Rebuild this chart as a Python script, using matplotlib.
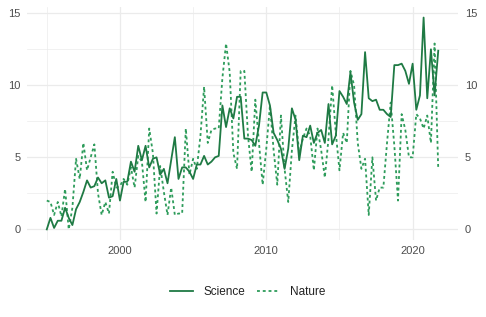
import numpy as np
import matplotlib.pyplot as plt
from matplotlib.ticker import MultipleLocator

plt.rcParams["font.family"] = ["Liberation Sans", "DejaVu Sans"]

# quarterly series, 1995 Q1 .. 2021 Q4
start_year = 1995
science = [
    0.0, 0.8, 0.1, 0.6,
    0.6, 1.5, 0.8, 0.3,
    1.4, 1.9, 2.6, 3.4,
    2.9, 3.0, 3.6, 3.2,
    3.4, 2.2, 2.3, 3.5,
    2.0, 3.3, 3.3, 4.7,
    4.0, 5.8, 4.8, 5.8,
    4.3, 4.9, 5.0, 3.8,
    4.2, 3.2, 4.8, 6.4,
    3.5, 4.3, 4.3, 4.0,
    3.5, 4.5, 4.5, 5.1,
    4.5, 4.7, 5.0, 5.1,
    8.6, 7.1, 8.4, 7.7,
    9.2, 9.2, 6.3, 6.3,
    6.2, 5.8, 7.2, 9.5,
    9.5, 8.6, 6.7, 6.2,
    5.6, 4.2, 5.6, 8.4,
    7.6, 4.8, 6.5, 6.4,
    7.2, 6.0, 6.7, 6.9,
    6.0, 8.7, 5.9, 6.5,
    9.6, 9.2, 8.7, 10.9,
    8.8, 7.6, 8.0, 12.3,
    9.1, 8.9, 9.0, 8.3,
    8.3, 8.0, 7.8, 11.4,
    11.4, 11.5, 11.0, 10.1,
    11.5, 8.3, 9.3, 14.7,
    9.1, 12.5, 9.3, 12.4,
]
nature = [
    2.0, 1.9, 1.0, 1.9,
    0.9, 2.8, 0.0, 1.5,
    4.9, 3.5, 6.0, 4.1,
    5.0, 5.9, 2.5, 1.0,
    1.9, 1.1, 4.0, 2.9,
    3.0, 3.5, 3.1, 4.3,
    2.9, 5.1, 4.7, 1.9,
    7.0, 5.3, 1.1, 4.4,
    2.6, 1.0, 2.9, 1.0,
    1.1, 1.1, 7.0, 3.8,
    4.9, 4.2, 6.5, 9.9,
    6.0, 6.9, 7.0, 7.0,
    10.5, 12.9, 10.9, 5.3,
    4.2, 11.0, 11.0, 6.5,
    4.0, 9.0, 6.0, 3.1,
    5.6, 8.6, 5.5, 3.1,
    7.9, 4.2, 1.9, 5.5,
    7.9, 5.3, 6.3, 7.0,
    6.5, 4.1, 7.0, 5.5,
    3.6, 6.3, 10.0, 6.7,
    4.1, 6.7, 6.0, 11.0,
    10.0, 6.0, 4.2, 4.9,
    1.0, 5.0, 2.0, 2.9,
    2.9, 6.0, 8.8, 5.8,
    2.0, 8.0, 6.9, 5.0,
    5.0, 8.0, 7.7, 7.0,
    7.9, 6.0, 12.9, 4.2,
]
dates = start_year + 0.25 * np.arange(len(science))

sci_color = "#1f7a44"
nat_color = "#2e9c5b"
grid_color = "#ebebeb"
text_color = "#4d4d4d"

fig = plt.figure(figsize=(4.86, 3.17), dpi=100)
ax = fig.add_axes([0.056, 0.243, 0.886, 0.735])

ax.plot(dates, science, color=sci_color, lw=1.3, label="Science", zorder=3)
ax.plot(dates, nature, color=nat_color, lw=1.3, ls=(0, (1.6, 1.6)),
        label="Nature", zorder=2)

span = dates[-1] - dates[0]
ax.set_xlim(dates[0] - 0.05 * span, dates[-1] + 0.05 * span)
ymax = max(max(science), max(nature))
ax.set_ylim(-0.05 * ymax, ymax * 1.05)

ax.xaxis.set_major_locator(MultipleLocator(10))
ax.xaxis.set_minor_locator(MultipleLocator(5))
ax.yaxis.set_major_locator(MultipleLocator(5))
ax.yaxis.set_minor_locator(MultipleLocator(2.5))
ax.grid(which="major", color=grid_color, lw=0.9)
ax.grid(which="minor", color=grid_color, lw=0.5)
ax.set_axisbelow(True)

for s in ax.spines.values():
    s.set_visible(False)
ax.tick_params(which="both", length=0, labelsize=8, labelcolor=text_color, pad=4)
ax.tick_params(axis="y", which="both", right=False, labelright=True, pad=5)

leg = fig.legend(loc="center", bbox_to_anchor=(0.51, 0.078), ncol=2, frameon=False,
                 fontsize=8.5, handlelength=1.9, columnspacing=1.0, handletextpad=0.9)
for t in leg.get_texts():
    t.set_color("#222222")

fig.savefig("out.png", dpi=100)
